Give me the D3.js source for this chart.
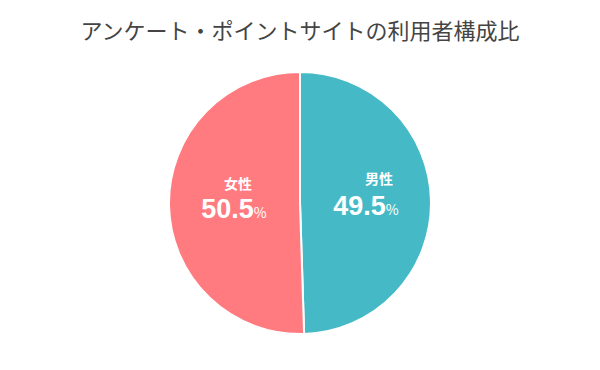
<!DOCTYPE html>
<html>
<head>
<meta charset="utf-8">
<script src="https://cdn.jsdelivr.net/npm/d3@7"></script>
<style>
  body { margin: 0; background: #fff; }
  text { font-family: "Noto Sans CJK JP", "Noto Sans", sans-serif; }
</style>
</head>
<body>
<div id="chart"></div>
<script>
// データ
var title = 'アンケート・ポイントサイトの利用者構成比';
var categories = ['男性', '女性'];
var values = [49.5, 50.5];
var colors = ['#45bac6', '#ff7b80'];

var width = 600, height = 370;
var cx = 300, cy = 203, radius = 131;

var svg = d3.select('#chart')
    .append('svg')
    .attr('width', width)
    .attr('height', height);

// タイトル
svg.append('text')
    .attr('x', width / 2)
    .attr('y', 39)
    .attr('text-anchor', 'middle')
    .style('font-size', '22px')
    .style('fill', '#444')
    .text(title);

var data = categories.map(function (c, i) {
    return { name: c, value: values[i] };
});

var pie = d3.pie()
    .sort(null)
    .value(function (d) { return d.value; });

var arc = d3.arc().innerRadius(0).outerRadius(radius);
var labelArc = d3.arc().innerRadius(66).outerRadius(66);

var g = svg.append('g')
    .attr('transform', 'translate(' + cx + ',' + cy + ')');

g.selectAll('path')
    .data(pie(data))
    .enter()
    .append('path')
    .attr('d', arc)
    .style('fill', function (d, i) { return colors[i]; })
    .style('stroke', '#fff')
    .style('stroke-width', 2);

var labels = g.selectAll('.label')
    .data(pie(data))
    .enter()
    .append('g')
    .attr('class', 'label')
    .attr('transform', function (d) {
        var c = labelArc.centroid(d);
        return 'translate(' + c[0] + ',' + c[1] + ')';
    });

// カテゴリ名（少しずらす）
labels.append('text')
    .attr('x', function (d, i) { return i === 0 ? 13 : 4; })
    .attr('y', function (d, i) { return i === 0 ? -18 : -15; })
    .attr('text-anchor', 'middle')
    .style('fill', '#fff')
    .style('font-size', '14px')
    .style('font-weight', 'bold')
    .text(function (d) { return d.data.name; });

// 数値
var num = labels.append('text')
    .attr('y', function (d, i) { return i === 0 ? 13 : 14; })
    .attr('text-anchor', 'middle')
    .style('fill', '#fff')
    .style('font-weight', 'bold');
num.append('tspan')
    .style('font-size', '27px')
    .style('font-family', '"Liberation Sans", Arial, sans-serif')
    .text(function (d) { return d.data.value.toFixed(1); });
num.append('tspan')
    .style('font-size', '14px')
    .style('font-weight', 'normal')
    .text('%');
</script>
</body>
</html>
